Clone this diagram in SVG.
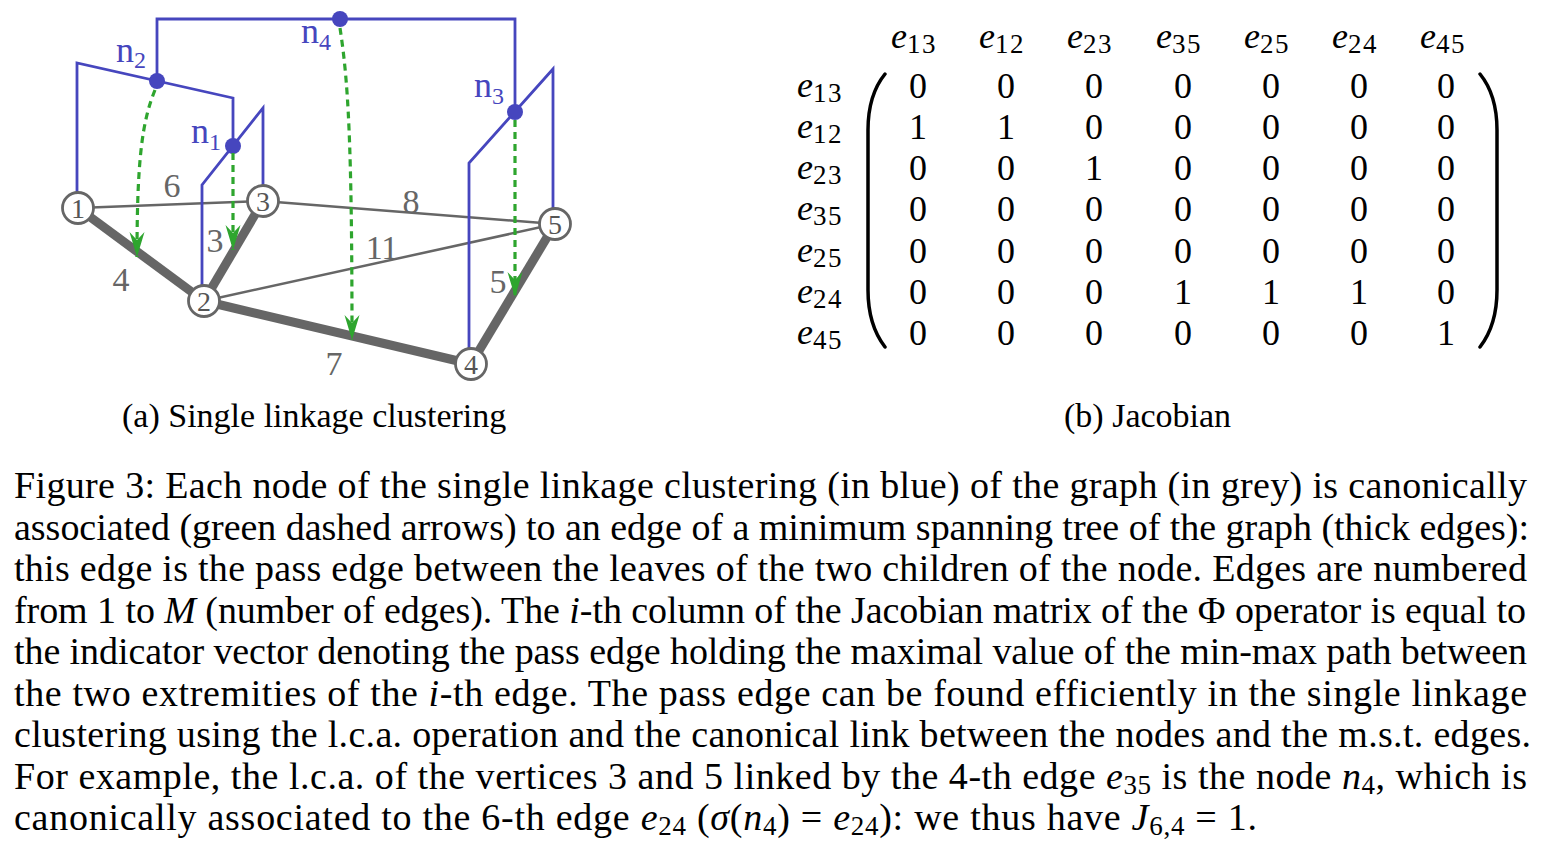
<svg xmlns="http://www.w3.org/2000/svg" width="1541" height="848" viewBox="0 0 1541 848">
<style>
text{font-family:"Liberation Serif","Times New Roman",serif;}
.thin{stroke:#666;stroke-width:2.5;fill:none;}
.thick{stroke:#666;stroke-width:9;fill:none;}
.node circle{fill:#fff;stroke:#666;stroke-width:2.8;}
.node text{fill:#555;font-size:28px;text-anchor:middle;}
.elab{fill:#666;font-size:34px;text-anchor:middle;}
.blue{stroke:#4646be;stroke-width:2.8;fill:none;stroke-linejoin:miter;}
.bdot{fill:#4646be;}
.blab{fill:#4646be;font-size:36px;}
.green{stroke:#2ea52e;stroke-width:3.2;fill:none;stroke-dasharray:7 5;}
.mat{font-size:36px;fill:#000;text-anchor:middle;}
.lab{font-size:34px;fill:#000;}
.rl{font-size:36px;fill:#000;}
.cap{font-size:38px;fill:#000;}
.it{font-style:italic;}
.sub{font-size:27px;letter-spacing:1.5px;}
.csub{font-size:27px;}
.paren{stroke:#000;stroke-width:3.5;fill:none;stroke-linecap:round;}
</style>
<defs>
<marker id="arr" markerUnits="userSpaceOnUse" markerWidth="30" markerHeight="20" viewBox="-26 -10 30 20" refX="0" refY="0" orient="auto">
<path d="M0,0 L-25,-7.5 L-17,0 L-25,7.5 Z" fill="#2ea52e"/>
</marker>
</defs>

<g id="connectors">
<g id="graph-edges">
<line class="thin" x1="78" y1="208" x2="263" y2="201"/>
<line class="thin" x1="263" y1="201" x2="555" y2="224"/>
<line class="thin" x1="204" y1="301" x2="555" y2="224"/>
<line class="thick" x1="78" y1="208" x2="204" y2="301"/>
<line class="thick" x1="204" y1="301" x2="263" y2="201"/>
<line class="thick" x1="204" y1="301" x2="471" y2="364"/>
<line class="thick" x1="471" y1="364" x2="555" y2="224"/>
</g>
<g id="tree-edges">
<polyline class="blue" points="77,192 77,63 233,98 233,146"/>
<polyline class="blue" points="202,285 202,185 263,108 263,185"/>
<polyline class="blue" points="157,81 157,19 515,19 515,112"/>
<polyline class="blue" points="469,348 469,163 553,69 553,208"/>
</g>
</g>

<g id="node1" class="node"><circle cx="78" cy="208" r="15.5"/><text x="78" y="218">1</text></g>
<g id="node2" class="node"><circle cx="204" cy="301" r="15.5"/><text x="204" y="311">2</text></g>
<g id="node3" class="node"><circle cx="263" cy="201" r="15.5"/><text x="263" y="211">3</text></g>
<g id="node4" class="node"><circle cx="471" cy="364" r="15.5"/><text x="471" y="374">4</text></g>
<g id="node5" class="node"><circle cx="555" cy="224" r="15.5"/><text x="555" y="234">5</text></g>

<g id="edge-labels">
<text class="elab" x="172" y="197">6</text>
<text class="elab" x="411" y="213">8</text>
<text class="elab" x="382" y="259">11</text>
<text class="elab" x="121" y="291">4</text>
<text class="elab" x="215" y="252">3</text>
<text class="elab" x="498" y="293">5</text>
<text class="elab" x="334" y="375">7</text>
</g>

<g id="tn1"><circle class="bdot" cx="233" cy="146" r="8"/><text class="blab" x="191" y="143">n<tspan font-size="24" dy="7">1</tspan></text></g>
<g id="tn2"><circle class="bdot" cx="157" cy="81" r="8"/><text class="blab" x="116" y="62">n<tspan font-size="24" dy="6">2</tspan></text></g>
<g id="tn3"><circle class="bdot" cx="515" cy="112" r="8"/><text class="blab" x="474" y="97">n<tspan font-size="24" dy="7">3</tspan></text></g>
<g id="tn4"><circle class="bdot" cx="340" cy="19" r="8"/><text class="blab" x="301" y="43">n<tspan font-size="24" dy="7">4</tspan></text></g>

<g id="arrows">
<path class="green" d="M155,90 C142,122 137,160 137,257" marker-end="url(#arr)"/>
<path class="green" d="M233,153 L233,250" marker-end="url(#arr)"/>
<path class="green" d="M340,28 C348,80 352,140 352,340" marker-end="url(#arr)"/>
<path class="green" d="M515,120 L515,297" marker-end="url(#arr)"/>
</g>

<text class="lab" x="122" y="427">(a) Single linkage clustering</text>

<g id="matrix">
<g id="col-headers" class="mat">
<text x="914" y="48"><tspan class="it">e</tspan><tspan class="sub" dy="5">13</tspan></text>
<text x="1002" y="48"><tspan class="it">e</tspan><tspan class="sub" dy="5">12</tspan></text>
<text x="1090" y="48"><tspan class="it">e</tspan><tspan class="sub" dy="5">23</tspan></text>
<text x="1179" y="48"><tspan class="it">e</tspan><tspan class="sub" dy="5">35</tspan></text>
<text x="1267" y="48"><tspan class="it">e</tspan><tspan class="sub" dy="5">25</tspan></text>
<text x="1355" y="48"><tspan class="it">e</tspan><tspan class="sub" dy="5">24</tspan></text>
<text x="1443" y="48"><tspan class="it">e</tspan><tspan class="sub" dy="5">45</tspan></text>
</g>
<g id="row-labels" class="rl">
<text x="797" y="97"><tspan class="it">e</tspan><tspan class="sub" dy="5">13</tspan></text>
<text x="797" y="138"><tspan class="it">e</tspan><tspan class="sub" dy="5">12</tspan></text>
<text x="797" y="179"><tspan class="it">e</tspan><tspan class="sub" dy="5">23</tspan></text>
<text x="797" y="220"><tspan class="it">e</tspan><tspan class="sub" dy="5">35</tspan></text>
<text x="797" y="262"><tspan class="it">e</tspan><tspan class="sub" dy="5">25</tspan></text>
<text x="797" y="303"><tspan class="it">e</tspan><tspan class="sub" dy="5">24</tspan></text>
<text x="797" y="344"><tspan class="it">e</tspan><tspan class="sub" dy="5">45</tspan></text>
</g>
<path class="paren" d="M885,74 Q868,95 868,130 L868,290 Q868,325 885,347"/>
<path class="paren" d="M1480,74 Q1497,95 1497,130 L1497,290 Q1497,325 1480,347"/>
<g id="entries" class="mat">
<text x="918" y="98">0</text><text x="1006" y="98">0</text><text x="1094" y="98">0</text><text x="1183" y="98">0</text><text x="1271" y="98">0</text><text x="1359" y="98">0</text><text x="1446" y="98">0</text>
<text x="918" y="139">1</text><text x="1006" y="139">1</text><text x="1094" y="139">0</text><text x="1183" y="139">0</text><text x="1271" y="139">0</text><text x="1359" y="139">0</text><text x="1446" y="139">0</text>
<text x="918" y="180">0</text><text x="1006" y="180">0</text><text x="1094" y="180">1</text><text x="1183" y="180">0</text><text x="1271" y="180">0</text><text x="1359" y="180">0</text><text x="1446" y="180">0</text>
<text x="918" y="221">0</text><text x="1006" y="221">0</text><text x="1094" y="221">0</text><text x="1183" y="221">0</text><text x="1271" y="221">0</text><text x="1359" y="221">0</text><text x="1446" y="221">0</text>
<text x="918" y="263">0</text><text x="1006" y="263">0</text><text x="1094" y="263">0</text><text x="1183" y="263">0</text><text x="1271" y="263">0</text><text x="1359" y="263">0</text><text x="1446" y="263">0</text>
<text x="918" y="304">0</text><text x="1006" y="304">0</text><text x="1094" y="304">0</text><text x="1183" y="304">1</text><text x="1271" y="304">1</text><text x="1359" y="304">1</text><text x="1446" y="304">0</text>
<text x="918" y="345">0</text><text x="1006" y="345">0</text><text x="1094" y="345">0</text><text x="1183" y="345">0</text><text x="1271" y="345">0</text><text x="1359" y="345">0</text><text x="1446" y="345">1</text>
</g>
</g>

<text class="lab" x="1064" y="427">(b) Jacobian</text>

<g id="caption" class="cap">
<text x="14" y="498" textLength="1513" lengthAdjust="spacing">Figure 3: Each node of the single linkage clustering (in blue) of the graph (in grey) is canonically</text>
<text x="14" y="540" textLength="1515" lengthAdjust="spacing">associated (green dashed arrows) to an edge of a minimum spanning tree of the graph (thick edges):</text>
<text x="14" y="581" textLength="1513" lengthAdjust="spacing">this edge is the pass edge between the leaves of the two children of the node. Edges are numbered</text>
<text x="14" y="623" textLength="1512" lengthAdjust="spacing">from 1 to <tspan class="it">M</tspan> (number of edges). The <tspan class="it">i</tspan>-th column of the Jacobian matrix of the Φ operator is equal to</text>
<text x="14" y="664" textLength="1513" lengthAdjust="spacing">the indicator vector denoting the pass edge holding the maximal value of the min-max path between</text>
<text x="14" y="706" textLength="1513" lengthAdjust="spacing">the two extremities of the <tspan class="it">i</tspan>-th edge. The pass edge can be found efficiently in the single linkage</text>
<text x="14" y="747" textLength="1517" lengthAdjust="spacing">clustering using the l.c.a. operation and the canonical link between the nodes and the m.s.t. edges.</text>
<text x="14" y="789" textLength="1513" lengthAdjust="spacing">For example, the l.c.a. of the vertices 3 and 5 linked by the 4-th edge <tspan class="it">e</tspan><tspan class="csub" dy="5">35</tspan><tspan dy="-5"> is the node </tspan><tspan class="it">n</tspan><tspan class="csub" dy="5">4</tspan><tspan dy="-5">, which is</tspan></text>
<text x="14" y="830" textLength="1243" lengthAdjust="spacing">canonically associated to the 6-th edge <tspan class="it">e</tspan><tspan class="csub" dy="5">24</tspan><tspan dy="-5"> (</tspan><tspan class="it">σ</tspan>(<tspan class="it">n</tspan><tspan class="csub" dy="5">4</tspan><tspan dy="-5">) = </tspan><tspan class="it">e</tspan><tspan class="csub" dy="5">24</tspan><tspan dy="-5">): we thus have </tspan><tspan class="it">J</tspan><tspan class="csub" dy="5">6,4</tspan><tspan dy="-5"> = 1.</tspan></text>
</g>
</svg>
